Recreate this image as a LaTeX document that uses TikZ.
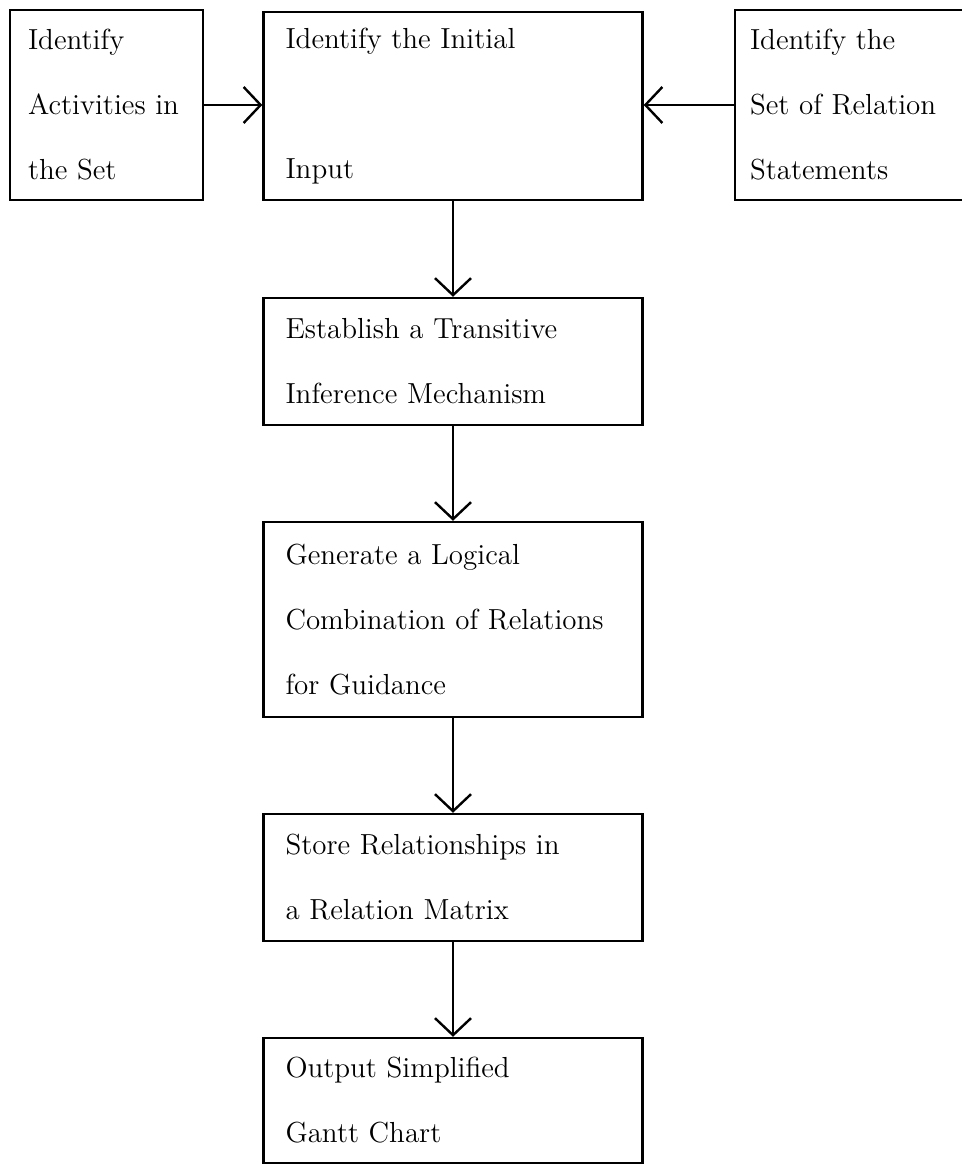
\documentclass[tikz,border=0pt]{standalone}
\usetikzlibrary{arrows.meta}
\begin{document}
\begin{tikzpicture}[x=0.5pt, y=-0.5pt,
	box/.style={draw, rectangle, line width=1.2pt, align=left, font=\fontsize{14.5}{32.5}\selectfont},
	stepbox/.style={box, inner xsep=11pt, text width=167.5pt},
	flow/.style={line width=1pt, -{Straight Barb[length=8.5pt, width=18pt, line width=1.2pt]}}]
	\useasboundingbox (0,0) rectangle (962,1166);
	\clip (0,0) rectangle (962,1166);
	
	\node[box, inner xsep=9pt, text width=78.5pt, minimum height=95pt] (activities) at (106.5,105) {Identify\\Activities in\\the Set};
	\node[stepbox, minimum height=94pt] (initial) at (453,106) {Identify the Initial\\[32.5pt]Input};
	\node[box, inner xsep=7.5pt, text width=105pt, minimum height=95pt] (relations) at (855,105) {Identify the\\Set of Relation\\Statements};
	
	\node[stepbox, minimum height=63.5pt] (inference) at (453,361.5) {Establish a Transitive\\Inference Mechanism};
	\node[stepbox, minimum height=97.5pt] (combination) at (453,619.5) {Generate a Logical\\Combination of Relations\\for Guidance};
	\node[stepbox, minimum height=63.5pt] (matrix) at (453,877.5) {Store Relationships in\\a Relation Matrix};
	\node[stepbox, minimum height=62.5pt] (gantt) at (453,1100.5) {Output Simplified\\Gantt Chart};
	
	\draw[flow] (activities.east) -- (activities.east -| initial.west);
	\draw[flow] (relations.west) -- (relations.west -| initial.east);
	\draw[flow] (initial) -- (inference);
	\draw[flow] (inference) -- (combination);
	\draw[flow] (combination) -- (matrix);
	\draw[flow] (matrix) -- (gantt);
\end{tikzpicture}
\end{document}
